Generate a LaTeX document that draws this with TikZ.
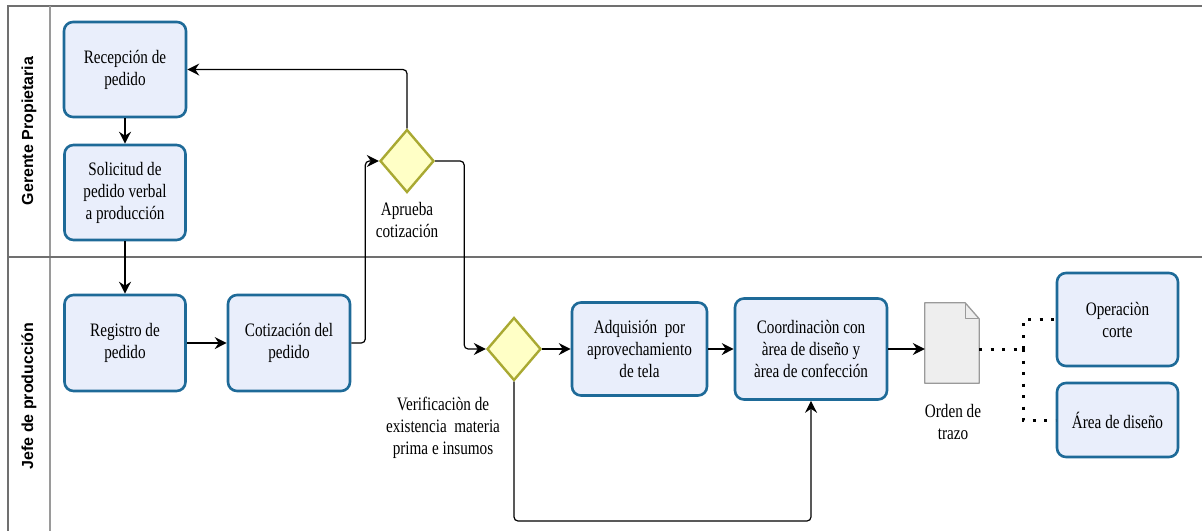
\documentclass[tikz,border=0pt]{standalone}
\usepackage{fontspec}
\setmainfont{Liberation Serif}
\newfontfamily\boxfont[FakeStretch=0.8]{Liberation Serif}
\newfontfamily\lanefont{Liberation Sans}
\usetikzlibrary{arrows.meta,shapes.geometric,calc}
\definecolor{taskfill}{HTML}{E9EEFB}
\definecolor{taskborder}{HTML}{1E6A98}
\definecolor{gatefill}{HTML}{FFFFC6}
\definecolor{gateborder}{HTML}{A9A932}
\definecolor{docfill}{HTML}{EEEEEE}
\definecolor{docborder}{HTML}{9A9A9A}
\definecolor{laneline}{HTML}{707070}
\definecolor{laneline2}{HTML}{9A9A9A}
\tikzset{
  task/.style={draw=taskborder, fill=taskfill, line width=2.6pt, rounded corners=9pt,
    align=center, inner sep=0pt, font=\boxfont\fontsize{19}{22}\selectfont},
  gate/.style={diamond, draw=gateborder, fill=gatefill, line width=2.4pt, inner sep=0pt,
    minimum width=54pt, minimum height=63pt},
  lbl/.style={align=center, inner sep=0pt, font=\boxfont\fontsize{19}{22}\selectfont},
  lanetitle/.style={rotate=90, inner sep=0pt, font=\lanefont\bfseries\fontsize{16}{18}\selectfont},
  flow/.style={draw=black, line width=1.2pt, rounded corners=4pt,
    -{Stealth[length=12pt,width=12pt,inset=4pt]}},
  assoc/.style={draw=black, line width=3pt, dash pattern=on 3pt off 8.5pt},
  docshape/.style={draw=docborder, fill=docfill, line width=1.3pt, line join=round},
  lanestyle/.style={draw=laneline, line width=1.5pt},
  lanestyle2/.style={draw=laneline2, line width=1.5pt}
}
\begin{document}
\begin{tikzpicture}[x=1pt,y=-1pt]
\useasboundingbox (0,0) rectangle (1202,531);
% lanes
\draw[lanestyle] (1202,6) -- (8,6) -- (8,531);
\draw[lanestyle2] (50,6) -- (50,531);
\draw[lanestyle] (8,257) -- (1202,257);
\node[lanetitle] (lane1) at (29,131) {Gerente Propietaria};
\node[lanetitle] (lane2) at (29,396) {Jefe de producción};
% tasks
\node[task, minimum width=122pt, minimum height=95pt] (rec) at (125,69.5) {Recepción de\\pedido};
\node[task, minimum width=121pt, minimum height=95pt] (sol) at (125,192.5) {Solicitud de\\pedido verbal\\a producción};
\node[task, minimum width=121pt, minimum height=96pt] (reg) at (125,343) {Registro de\\pedido};
\node[task, minimum width=122pt, minimum height=96pt] (cot) at (289,343) {Cotización del\\pedido};
\node[gate] (g1) at (407,161) {};
\node[lbl] (g1l) at (407,220) {Aprueba\\cotización};
\node[gate] (g2) at (514,349) {};
\node[lbl] (g2l) at (443,428) {Verificaciòn de\\existencia\ \ materia\\prima e insumos};
\node[task, minimum width=135pt, minimum height=93pt] (adq) at (639.5,349) {Adquisión\ \ por\\aprovechamiento\\de tela};
\node[task, minimum width=152pt, minimum height=101pt] (coo) at (811,349) {Coordinaciòn con\\àrea de diseño y\\àrea de confección};
% document
\node[minimum width=54pt, minimum height=80pt, inner sep=0pt] (doc) at (952,343) {};
\draw[docshape] (doc.north west) -- ($(doc.north east)+(-14,0)$) -- ($(doc.north east)+(0,16)$)
   -- (doc.south east) -- (doc.south west) -- cycle;
\draw[docshape, fill=none] ($(doc.north east)+(-14,0)$) -- ($(doc.north east)+(-14,16)$) -- ($(doc.north east)+(0,16)$);
\node[lbl] (docl) at (953,422) {Orden de\\trazo};
\node[task, minimum width=121pt, minimum height=93pt] (ope) at (1117.5,319.5) {Operaciòn\\corte};
\node[task, minimum width=121pt, minimum height=74pt] (area) at (1117.5,420) {Área de diseño};
% flows
\draw[flow] (rec) -- (sol);
\draw[flow] (sol) -- (reg);
\draw[flow] (reg) -- (cot);
\draw[flow] (cot.east) -- ++(14,0) |- (g1.west);
\draw[flow] (g1.north) |- (rec.east);
\draw[flow] (g1.east) -- ++(29,0) |- (g2.west);
\draw[flow] (g2) -- (adq);
\draw[flow] (adq) -- (coo);
\draw[flow] (g2.south) -- (g2.south |- 0,521) -| (coo.south);
\draw[flow] (coo.east) -- (coo.east -| doc.west);
% associations
\coordinate (ds) at (doc.east |- coo.east);
\coordinate (j) at ($(ds)+(44,0)$);
\draw[assoc] (ds) -- (j);
\draw[assoc] (j) |- (ope.west);
\draw[assoc] (j) |- (area.west);
\end{tikzpicture}
\end{document}
